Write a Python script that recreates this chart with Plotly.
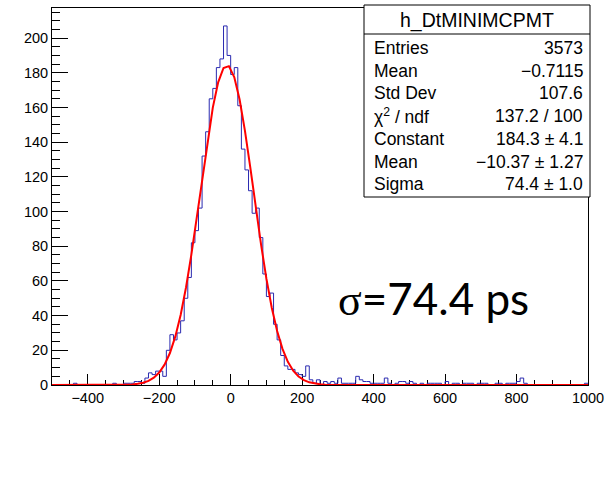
import numpy as np
import plotly.graph_objects as go

# ---------------- data ----------------
x_min, x_max, bin_width = -500, 1000, 10
counts = [
    0, 0, 0, 0, 0, 0, 1, 0, 0, 0,          # -500 .. -410
    0, 0, 0, 0, 0, 0, 0, 1, 0, 0,          # -400 .. -310
    1, 1, 1, 2, 2, 1, 4, 7, 6, 8,          # -300 .. -210
    8, 5, 20, 29, 26, 30, 37, 50, 62, 82,  # -200 .. -110
    89, 102, 132, 146, 165, 171, 183, 188, 207, 190,  # -100 .. -10
    179, 183, 161, 136, 124, 112, 99, 102, 85, 64,    # 0 .. 90
    51, 53, 35, 26, 17, 11, 9, 9, 7, 6,    # 100 .. 190
    5, 11, 3, 1, 3, 0, 2, 1, 2, 1,         # 200 .. 290
    4, 1, 1, 1, 1, 5, 3, 2, 2, 1,          # 300 .. 390
    1, 1, 1, 4, 1, 0, 1, 2, 2, 1,          # 400 .. 490
    2, 1, 0, 1, 0, 1, 1, 1, 1, 0,          # 500 .. 590
    2, 0, 1, 1, 0, 1, 1, 1, 0, 1,          # 600 .. 690
    1, 1, 0, 0, 1, 1, 0, 1, 1, 1,          # 700 .. 790
    2, 4, 1, 0, 0, 0, 0, 0, 0, 0,          # 800 .. 890
    0, 0, 0, 0, 0, 0, 0, 0, 0, 1,          # 900 .. 990
]
fit_constant, fit_mean, fit_sigma = 184.3, -10.37, 74.4
y_max = 217.35

stats_title = "h_DtMINIMCPMT"
stats_labels = ["Entries", "Mean", "Std Dev", "χ<sup>2</sup> / ndf", "Constant", "Mean", "Sigma"]
stats_values = ["3573", "−0.7115", "107.6", "137.2 / 100", "184.3 ± 4.1", "−10.37 ± 1.27", "74.4 ± 1.0"]
big_label = '<span style="font-family:Liberation Serif">σ</span>=74.4 ps'

# ---------------- geometry (pixels) ----------------
W, H = 611, 498
L, R, T, B = 52, 588, 8, 385
pw, ph = R - L, B - T

def px2x(px):
    return (px - L) / pw

def py2y(py):
    return (B - py) / ph

edges = x_min + bin_width * np.arange(len(counts) + 1)
hist_y = list(counts) + [counts[-1]]

fx = np.linspace(x_min, x_max, 101)
fy = fit_constant * np.exp(-0.5 * ((fx - fit_mean) / fit_sigma) ** 2)

fig = go.Figure()
fig.add_trace(go.Scatter(x=edges, y=hist_y, mode="lines", line_shape="hv",
                         line=dict(color="#2a2ab0", width=1), hoverinfo="skip"))
fig.add_trace(go.Scatter(x=fx, y=fy, mode="lines",
                         line=dict(color="#ff0000", width=2), hoverinfo="skip"))

font_main = "Liberation Sans, Arial, sans-serif"
fig.update_layout(
    width=W, height=H,
    margin=dict(l=L, r=W - R, t=T, b=H - B),
    paper_bgcolor="white", plot_bgcolor="white",
    showlegend=False,
    font=dict(family=font_main, size=14.5, color="black"),
    xaxis=dict(range=[x_min, x_max], showgrid=False, zeroline=False,
               showline=True, linecolor="black", linewidth=1, mirror=True,
               ticks="inside", ticklen=11, tickcolor="black", tickwidth=1,
               tick0=0, dtick=200,
               minor=dict(dtick=50, ticks="inside", ticklen=5.5, tickcolor="black", tickwidth=1),
               layer="below traces"),
    yaxis=dict(range=[0, y_max], showgrid=False, zeroline=False,
               showline=True, linecolor="black", linewidth=1, mirror=True,
               ticks="inside", ticklen=16, tickcolor="black", tickwidth=1,
               tick0=0, dtick=20,
               minor=dict(dtick=5, ticks="inside", ticklen=8, tickcolor="black", tickwidth=1),
               layer="below traces"),
)

# stats box
bx0, bx1, by0, by1 = 364, 590, 5, 197
sep_y = 34
fig.add_shape(type="rect", xref="paper", yref="paper",
              x0=px2x(bx0), x1=px2x(bx1), y0=py2y(by1), y1=py2y(by0),
              line=dict(color="black", width=1), fillcolor="white", layer="above")
fig.add_shape(type="line", xref="paper", yref="paper",
              x0=px2x(bx0), x1=px2x(bx1), y0=py2y(sep_y), y1=py2y(sep_y),
              line=dict(color="black", width=1), layer="above")
fig.add_annotation(xref="paper", yref="paper", x=px2x((bx0 + bx1) / 2), y=py2y(20),
                   text=stats_title, showarrow=False, xanchor="center", yanchor="middle",
                   font=dict(size=19.5))
row0, dy = 48, 22.7
for i, (lab, val) in enumerate(zip(stats_labels, stats_values)):
    yy = py2y(row0 + i * dy)
    fig.add_annotation(xref="paper", yref="paper", x=px2x(372), y=yy, text=lab,
                       showarrow=False, xanchor="left", yanchor="middle", font=dict(size=17.5))
    fig.add_annotation(xref="paper", yref="paper", x=px2x(585), y=yy, text=val,
                       showarrow=False, xanchor="right", yanchor="middle", font=dict(size=17.5))

fig.add_annotation(xref="paper", yref="paper", x=px2x(433), y=py2y(298),
                   text=big_label, showarrow=False, xanchor="center", yanchor="middle",
                   font=dict(family="Lato, Open Sans, sans-serif", size=44, color="black"))

fig.write_html("out.html")
